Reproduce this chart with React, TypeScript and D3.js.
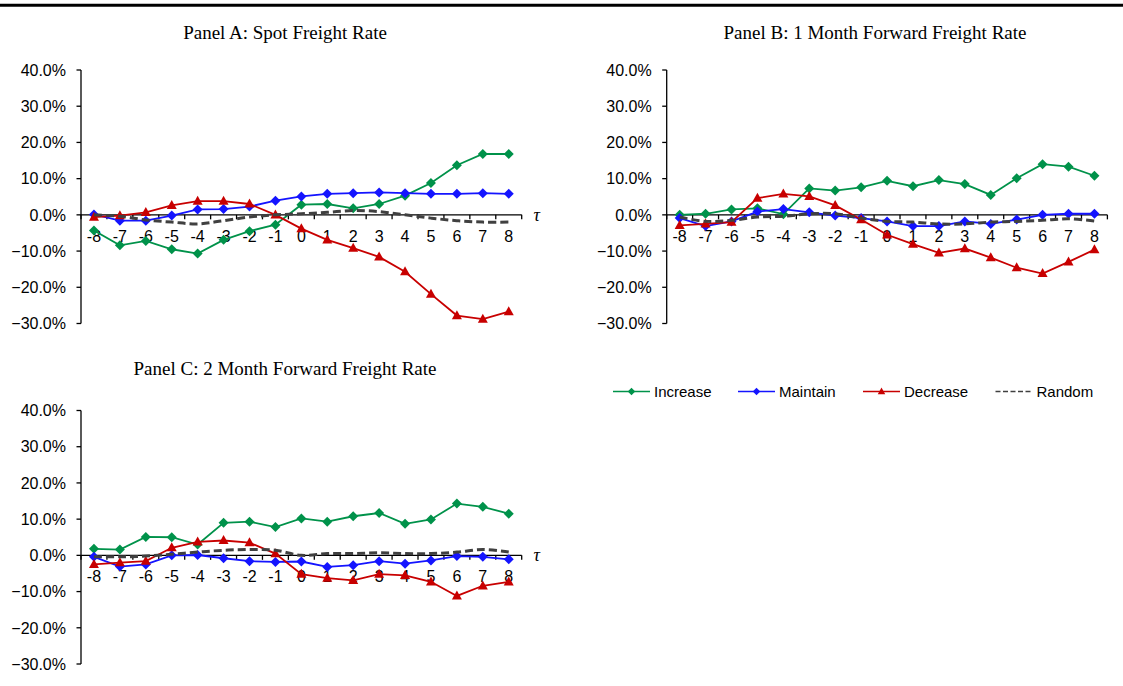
import React from "react";
import * as d3 from "d3";

const taus = [-8, -7, -6, -5, -4, -3, -2, -1, 0, 1, 2, 3, 4, 5, 6, 7, 8];
const yTicks = [40, 30, 20, 10, 0, -10, -20, -30];
const seriesNames = ["Increase", "Maintain", "Decrease", "Random"];

// Panel A: Spot Freight Rate (%)
const aIncrease = [-4.3, -8.4, -7.2, -9.5, -10.7, -6.9, -4.5, -2.7, 2.8, 3.0, 1.8, 3.0, 5.3, 8.8, 13.7, 16.8, 16.8];
const aMaintain = [0.1, -1.6, -1.6, -0.2, 1.5, 1.6, 2.3, 3.9, 5.1, 5.8, 6.0, 6.2, 6.0, 5.8, 5.8, 6.0, 5.8];
const aDecrease = [-0.6, -0.2, 0.7, 2.6, 3.8, 3.8, 3.0, 0.0, -3.8, -6.9, -9.2, -11.6, -15.7, -21.9, -27.8, -28.8, -26.7];
const aRandom = [0.0, -0.4, -1.4, -2.0, -2.5, -1.6, -0.6, 0.0, 0.3, 0.7, 1.2, 0.9, 0.0, -0.9, -1.6, -2.0, -2.0];

// Panel B: 1 Month Forward Freight Rate (%)
const bIncrease = [0.0, 0.3, 1.5, 1.8, 0.2, 7.3, 6.7, 7.6, 9.4, 7.9, 9.6, 8.5, 5.5, 10.1, 14.0, 13.3, 10.8];
const bMaintain = [-0.9, -3.1, -1.8, 0.9, 1.6, 0.7, -0.2, -0.9, -1.8, -3.1, -3.1, -1.8, -2.5, -1.3, 0.0, 0.3, 0.3];
const bDecrease = [-2.9, -2.5, -2.0, 4.6, 5.8, 5.1, 2.6, -1.3, -5.5, -8.1, -10.5, -9.3, -11.8, -14.6, -16.2, -13.0, -9.6];
const bRandom = [-0.6, -1.8, -1.5, -0.6, -0.4, 0.3, 0.3, -0.9, -1.8, -2.0, -2.5, -2.5, -2.0, -1.8, -1.5, -1.1, -1.7];

// Panel C: 2 Month Forward Freight Rate (%)
const cIncrease = [1.8, 1.6, 5.1, 5.0, 3.0, 9.0, 9.3, 7.8, 10.2, 9.3, 10.8, 11.7, 8.7, 9.9, 14.3, 13.4, 11.5];
const cMaintain = [-0.4, -3.1, -2.5, 0.0, 0.1, -0.8, -1.6, -1.8, -1.7, -3.2, -2.7, -1.6, -2.3, -1.4, -0.2, -0.4, -1.1];
const cDecrease = [-2.5, -2.0, -1.6, 2.1, 3.7, 4.1, 3.5, 0.5, -5.2, -6.3, -6.9, -5.2, -5.5, -7.3, -11.2, -8.4, -7.3];
const cRandom = [-0.4, -0.4, -0.2, 0.3, 0.9, 1.4, 1.6, 1.4, 0.0, 0.5, 0.5, 0.7, 0.5, 0.5, 0.9, 1.6, 0.9];

const panelTitles = [
  "Panel A: Spot Freight Rate",
  "Panel B: 1 Month Forward Freight Rate",
  "Panel C: 2 Month Forward Freight Rate",
];

const GREEN = "#00924A";
const BLUE = "#1414FF";
const RED = "#C80000";
const GREY = "#404040";
const SANS = "'Liberation Sans', Arial, sans-serif";
const SERIF = "'Liberation Serif', 'Times New Roman', serif";

type Panel = {
  title: string;
  x0: number;
  x1: number;
  yTop: number;
  yBot: number;
  tx: number;
  ty: number;
  tau: boolean;
  data: number[][];
};

const panels: Panel[] = [
  { title: panelTitles[0], x0: 81, x1: 521.7, yTop: 70, yBot: 323.5, tx: 285, ty: 32, tau: true, data: [aIncrease, aMaintain, aDecrease, aRandom] },
  { title: panelTitles[1], x0: 666.7, x1: 1107.4, yTop: 70, yBot: 323.5, tx: 875, ty: 32, tau: false, data: [bIncrease, bMaintain, bDecrease, bRandom] },
  { title: panelTitles[2], x0: 81, x1: 521.7, yTop: 410.5, yBot: 664, tx: 285, ty: 368, tau: true, data: [cIncrease, cMaintain, cDecrease, cRandom] },
];

const colors = [GREEN, BLUE, RED, GREY];

function Marker({ kind, x, y, color, s = 1 }: { kind: number; x: number; y: number; color: string; s?: number }) {
  if (kind === 0 || kind === 1) {
    const r = 5 * s;
    return <path d={`M${x},${y - r}L${x + r},${y}L${x},${y + r}L${x - r},${y}Z`} fill={color} />;
  }
  if (kind === 2) {
    const h = 9 * s;
    const w = 5 * s;
    return <path d={`M${x},${y - h * 0.6}L${x + w},${y + h * 0.4}L${x - w},${y + h * 0.4}Z`} fill={color} />;
  }
  return null;
}

function PanelChart({ p }: { p: Panel }) {
  const x = d3.scaleBand<number>().domain(taus).range([p.x0, p.x1]);
  const y = d3.scaleLinear().domain([-30, 40]).range([p.yBot, p.yTop]);
  const cx = (t: number) => (x(t) as number) + x.bandwidth() / 2;
  const y0 = y(0);
  const straight = d3.line<number>().x((_, i) => cx(taus[i])).y((v) => y(v));
  const smooth = d3.line<number>().x((_, i) => cx(taus[i])).y((v) => y(v)).curve(d3.curveCatmullRom.alpha(0.5));
  const bounds = [...taus.map((t) => x(t) as number), p.x1];
  return (
    <g>
      <text x={p.tx} y={p.ty} textAnchor="middle" dominantBaseline="central" fontFamily={SERIF} fontSize={19} fill="#000">
        {p.title}
      </text>
      {/* y axis */}
      <line x1={p.x0} x2={p.x0} y1={p.yTop} y2={p.yBot} stroke="#000" strokeWidth={1.3} />
      {yTicks.map((t) => (
        <g key={t}>
          <line x1={p.x0 - 4.5} x2={p.x0} y1={y(t)} y2={y(t)} stroke="#000" strokeWidth={1.3} />
          <text x={p.x0 - 15} y={y(t)} dy="0.36em" textAnchor="end" fontFamily={SANS} fontSize={16} fill="#000">
            {d3.format(".1f")(t) + "%"}
          </text>
        </g>
      ))}
      {/* x axis */}
      <line x1={p.x0} x2={p.x1} y1={y0} y2={y0} stroke="#000" strokeWidth={1.3} />
      {bounds.map((b, i) => (
        <line key={i} x1={b} x2={b} y1={y0} y2={y0 + 4.5} stroke="#000" strokeWidth={1.3} />
      ))}
      {taus.map((t) => (
        <text key={t} x={cx(t)} y={y0 + 27} textAnchor="middle" fontFamily={SANS} fontSize={16} fill="#000">
          {String(t)}
        </text>
      ))}
      {p.tau && (
        <text x={p.x1 + 15} y={y0 + 6} textAnchor="middle" fontFamily={SERIF} fontStyle="italic" fontSize={18} fill="#000">
          τ
        </text>
      )}
      {/* series */}
      {p.data.map((vals, k) =>
        k < 3 ? (
          <g key={k}>
            <path d={straight(vals) as string} fill="none" stroke={colors[k]} strokeWidth={1.8} />
            {vals.map((v, i) => (
              <Marker key={i} kind={k} x={cx(taus[i])} y={y(v)} color={colors[k]} />
            ))}
          </g>
        ) : (
          <path key={k} d={smooth(vals) as string} fill="none" stroke={GREY} strokeWidth={3} strokeDasharray="8,4" />
        )
      )}
    </g>
  );
}

const legendX = [613, 738, 863, 995.5];

function Legend() {
  const ly = 391.5;
  return (
    <g>
      {seriesNames.map((n, k) => (
        <g key={n}>
          {k < 3 ? (
            <>
              <line x1={legendX[k]} x2={legendX[k] + 37} y1={ly} y2={ly} stroke={colors[k]} strokeWidth={1.5} />
              <Marker kind={k} x={legendX[k] + 18.5} y={ly} color={colors[k]} s={0.75} />
            </>
          ) : (
            <line x1={legendX[k]} x2={legendX[k] + 37} y1={ly} y2={ly} stroke={GREY} strokeWidth={1.6} strokeDasharray="5,2.5" />
          )}
          <text x={legendX[k] + 41} y={ly} dy="0.36em" fontFamily={SANS} fontSize={15} fill="#000">
            {n}
          </text>
        </g>
      ))}
    </g>
  );
}

export default function App() {
  return (
    <svg width={1123} height={686} style={{ position: "absolute", left: 0, top: 0, background: "#fff" }}>
      <rect x={0} y={0} width={1123} height={686} fill="#fff" />
      <line x1={0} x2={1123} y1={5.3} y2={5.3} stroke="#000" strokeWidth={3} />
      {panels.map((p, i) => (
        <PanelChart key={i} p={p} />
      ))}
      <Legend />
    </svg>
  );
}
